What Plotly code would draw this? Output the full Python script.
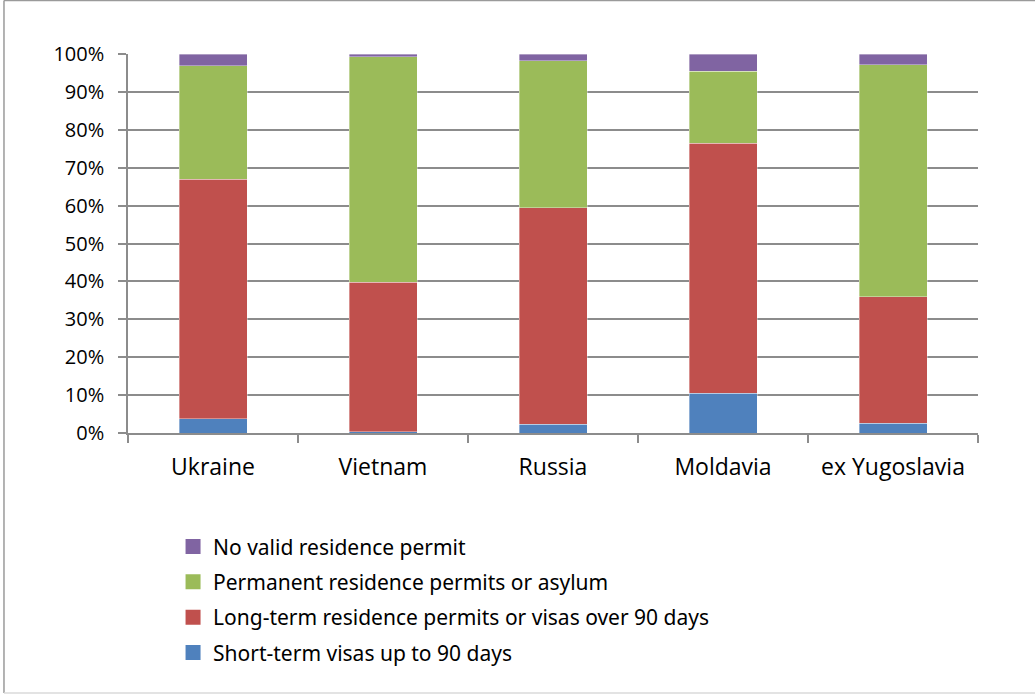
import plotly.graph_objects as go

countries = ["Ukraine", "Vietnam", "Russia", "Moldavia", "ex Yugoslavia"]
short_term = [3.8, 0.3, 2.3, 10.5, 2.6]
long_term = [63.2, 39.5, 57.1, 66.0, 33.3]
permanent = [29.9, 59.5, 38.8, 19.0, 61.3]
no_valid = [3.1, 0.7, 1.8, 4.5, 2.8]

series = [
    ("Short-term visas up to 90 days", short_term, "#4F81BD"),
    ("Long-term residence permits or visas over 90 days", long_term, "#C0504D"),
    ("Permanent residence permits or asylum", permanent, "#9BBB59"),
    ("No valid residence permit", no_valid, "#8064A2"),
]

fig = go.Figure()
for name, vals, col in series:
    fig.add_trace(go.Bar(
        x=countries, y=[v / 100 for v in vals], name=name,
        marker=dict(color=col, line=dict(width=0.6, color="rgba(255,255,255,0.6)")),
        showlegend=False,
    ))

# legend entries (top-down: last series first) with larger square swatches
for i, (name, vals, col) in enumerate(reversed(series)):
    fig.add_trace(go.Scatter(
        x=[None], y=[None], mode="markers", name=name,
        marker=dict(symbol="square", size=15, color=col),
        legendgroup="g%d" % i, showlegend=True,
    ))

border = dict(color="#9A9A9A", width=1.5)
fig.update_layout(
    barmode="stack",
    bargap=0.6,
    width=1035, height=694,
    margin=dict(l=128, r=57, t=54, b=261),
    paper_bgcolor="white",
    plot_bgcolor="white",
    legend=dict(
        x=0.053, y=-0.2465, xanchor="left", yanchor="top",
        traceorder="grouped",
        font=dict(family="Liberation Sans Narrow, Arial Narrow, Noto Sans", size=21, color="#000000"),
        itemwidth=30,
        tracegroupgap=5,
        itemsizing="trace",
    ),
    font=dict(family="Open Sans, Noto Sans", color="#000000"),
    shapes=[
        dict(type="line", xref="paper", yref="paper", x0=-0.1459, x1=-0.1459, y0=-0.686, y1=1.141, line=border),
        dict(type="line", xref="paper", yref="paper", x0=-0.1459, x1=1.1, y0=1.141, y1=1.141, line=border),
        dict(type="line", xref="paper", yref="paper", x0=-0.1459, x1=1.1, y0=-0.686, y1=-0.686,
             line=dict(color="#DADADA", width=1.5)),
    ],
)

fig.update_yaxes(
    range=[0, 1], tickvals=[i / 10 for i in range(11)], tickformat=".0%",
    showgrid=True, gridcolor="#8C8C8C", gridwidth=1.5,
    showline=True, linecolor="#8C8C8C", linewidth=1.5,
    ticks="outside", ticklen=8, tickcolor="#8C8C8C", tickwidth=1.5,
    ticklabelstandoff=10,
    tickfont=dict(size=20, family="Open Sans, Noto Sans", color="#000000"),
    zeroline=False,
)
fig.update_xaxes(
    showline=True, linecolor="#8C8C8C", linewidth=1.5,
    ticks="outside", ticklen=8, tickcolor="#8C8C8C", tickwidth=1.5,
    tickson="boundaries",
    ticklabelstandoff=13,
    tickfont=dict(size=23, family="Open Sans, Noto Sans", color="#000000"),
)

fig.write_html("out.html", config={"displayModeBar": False},
               post_script="document.body.style.margin='0';")
